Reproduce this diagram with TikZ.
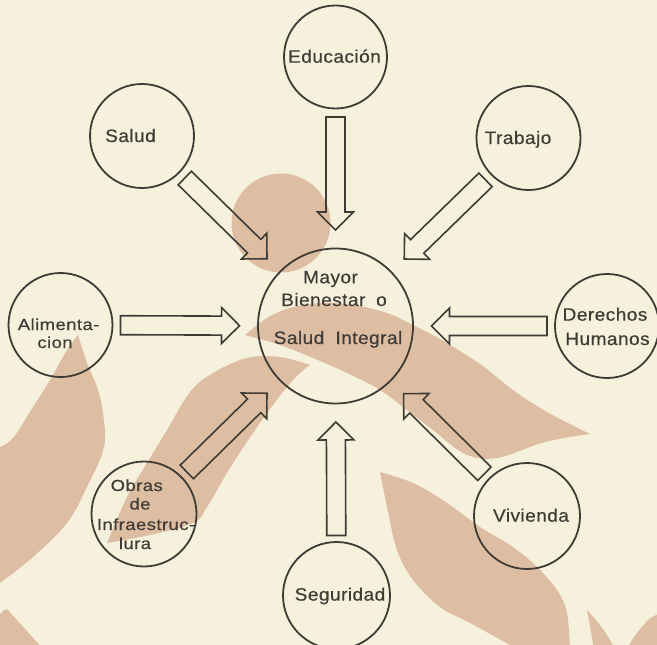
\documentclass[tikz,border=0pt]{standalone}
\usepackage{fontspec}
\setmainfont[LetterSpace=2.5, FakeBold=0.4, FakeStretch=1.06]{Liberation Sans}
\newfontfamily\widefont[LetterSpace=2.5, FakeBold=0.4, FakeStretch=1.16]{Liberation Sans}
\usetikzlibrary{calc}
\definecolor{paper}{HTML}{F6F1DD}
\definecolor{tan}{HTML}{DDBEA3}
\definecolor{ink}{HTML}{403B35}
\tikzset{
  wm/.style={fill=tan, draw=none},
  ring/.style={circle, draw=ink, line width=1.8pt, inner sep=0pt},
  arr/.style={draw=ink, line width=1.6pt, line join=miter},
  lbl/.style={anchor=base, inner sep=0pt, text=ink, font=\fontsize{18}{15}\selectfont},
  slbl/.style={lbl, font=\widefont\fontsize{16}{15}\selectfont},
}
\newcommand\blockarr[2]{%
  \path ($(#1)!60pt!(#2)$) coordinate (S) ($(#2)!96pt!(#1)$) coordinate (T);
  \path ($(T)!18pt!(S)$) coordinate (B);
  \draw[arr] ($(S)!9.5pt!90:(T)$) -- ($(B)!9.5pt!90:(T)$) -- ($(B)!18pt!90:(T)$) -- (T)
     -- ($(B)!18pt!-90:(T)$) -- ($(B)!9.5pt!-90:(T)$) -- ($(S)!9.5pt!-90:(T)$) -- cycle;
}
\begin{document}
\begin{tikzpicture}[x=1pt, y=-1pt]
\useasboundingbox (0,0) rectangle (657,645);
\fill[paper] (0,0) rectangle (657,645);
% watermark shapes
\begin{scope}
\clip (0,0) rectangle (657,645);
\fill[wm] (281,223) circle[radius=49.5];
\fill[wm] (245,335) -- plot[smooth, tension=0.6] coordinates {(245,335) (267,318) (290,308) (320,303) (353,305) (387,313) (413,325) (440,339) (480,364) (513,390) (547,412) (590,434)}
  -- plot[smooth, tension=0.6] coordinates {(590,434) (545,442) (497,458) (465,454) (433,430) (407,410) (380,390) (347,373) (313,358) (280,345) (245,335)} -- cycle;
\fill[wm] (310,365) -- plot[smooth, tension=0.6] coordinates {(310,365) (280,357) (247,358) (213,373) (190,392) (167,430) (147,463) (127,497) (107,543)}
  -- plot[smooth, tension=0.6] coordinates {(107,543) (150,535) (193,523) (207,507) (233,463) (267,413) (293,380) (310,365)} -- cycle;
\fill[wm] (78,335) -- plot[smooth, tension=0.6] coordinates {(78,335) (87,363) (97,387) (103,413) (104,447) (87,487) (67,523) (33,557) (0,583)}
  -- (-5,583) -- (-5,447) -- plot[smooth, tension=0.6] coordinates {(0,447) (13,438) (33,407) (50,380) (67,350) (78,335)} -- cycle;
\fill[wm] (380,472) -- plot[smooth, tension=0.6] coordinates {(380,472) (413,483) (447,503) (480,527) (513,547) (537,567) (557,590) (567,613) (570,650)}
  -- (517,650) -- plot[smooth, tension=0.6] coordinates {(510,645) (470,623) (440,607) (413,580) (397,550) (387,507) (380,472)} -- cycle;
\fill[wm] (-5,614) -- (0,614) .. controls (3,611) and (5,609) .. (7,609) -- (44,650) -- (-5,650) -- cycle;
\fill[wm] (587,610) .. controls (598,622) and (608,634) .. (615,650) -- (594,650) .. controls (592,635) and (589,622) .. (587,610) -- cycle;
\fill[wm] (662,612) -- (662,650) -- (626,650) .. controls (634,636) and (642,626) .. (650,618) -- cycle;
\end{scope}
% circles
\node[ring, minimum size=155pt] (c) at (335.5,326) {};
\node[ring, minimum size=103pt] (edu) at (335.5,57) {};
\node[ring, minimum size=104pt] (sal) at (142,136) {};
\node[ring, minimum size=104pt] (tra) at (528.5,138) {};
\node[ring, minimum size=104pt] (ali) at (60.5,325) {};
\node[ring, minimum size=104pt] (der) at (607,326) {};
\node[ring, minimum size=105pt] (obr) at (144,514) {};
\node[ring, minimum size=106pt] (viv) at (527,516) {};
\node[ring, minimum size=107pt] (seg) at (336.5,595.5) {};
% arrows
\blockarr{edu}{c}
\blockarr{sal}{c}
\blockarr{tra}{c}
\blockarr{ali}{c}
\blockarr{der}{c}
\blockarr{obr}{c}
\blockarr{viv}{c}
\blockarr{seg}{c}
% texts
\node[lbl] (t1) at (330.5,283.3) {Mayor};
\node[lbl] (t2) at (334,306) {Bienestar\hspace{0.6em}o};
\node[lbl] (t3) at (338,344) {Salud\hspace{0.3em} Integral};
\node[lbl] (t4) at (334.5,62.7) {Educación};
\node[lbl] (t5) at (130.5,142) {Salud};
\node[lbl] (t6) at (518,144) {Trabajo};
\node[slbl] (t7) at (58.6,330) {Alimenta-};
\node[slbl] (t8) at (55,348) {cion};
\node[lbl] (t9) at (605,320.7) {Derechos};
\node[lbl] (t10) at (607.5,345) {Humanos};
\node[slbl] (t11) at (136.7,491) {Obras};
\node[slbl] (t12) at (140,509.5) {de};
\node[slbl] (t13) at (146,530) {Infraestruc-};
\node[slbl] (t14) at (135,549) {lura};
\node[lbl] (t15) at (531,521.7) {Vivienda};
\node[lbl] (t16) at (340,600.6) {Seguridad};
\end{tikzpicture}
\end{document}
